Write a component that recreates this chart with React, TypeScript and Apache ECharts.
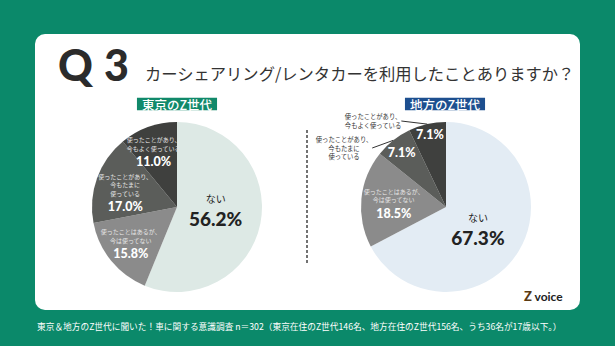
import React, { useEffect, useRef } from 'react';
import * as echarts from 'echarts';

const categories = [
  'ない',
  '使ったことはあるが、今は使ってない',
  '使ったことがあり、今もたまに使っている',
  '使ったことがあり、今もよく使っている',
];
const categoryLines = [
  ['ない'],
  ['使ったことはあるが、', '今は使ってない'],
  ['使ったことがあり、', '今もたまに', '使っている'],
  ['使ったことがあり、', '今もよく使っている'],
];
const tokyoValues = [56.2, 15.8, 17.0, 11.0];
const localValues = [67.3, 18.5, 7.1, 7.1];
const groupTitles = ['東京のZ世代', '地方のZ世代'];
const questionNo = ['Q', '3'];
const questionText = 'カーシェアリング/レンタカーを利用したことありますか？';
const footnote =
  '東京＆地方のZ世代に聞いた！車に関する意識調査 n＝302（東京在住のZ世代146名、地方在住のZ世代156名、うち36名が17歳以下。）';
const localOutsideIdx = [2, 3];

const JP = '"Noto Sans CJK JP", "Noto Sans", sans-serif';
const NUM = 'Lato, "Noto Sans", sans-serif';

const fmtPct = (v: number) => v.toFixed(1) + '%';

const insideFormatter = (outside: number[]) => (p: any) => {
  const i = p.dataIndex;
  if (i === 0) return `{n|${categoryLines[0][0]}}\n{b|${fmtPct(p.value)}}`;
  const pct = `{p|${fmtPct(p.value)}}`;
  if (outside.includes(i)) return pct;
  return categoryLines[i].map((l) => `{s|${l}}`).join('\n') + '\n' + pct;
};

const insideRich = {
  n: { fontFamily: JP, fontSize: 10, color: '#222', lineHeight: 16 },
  b: { fontFamily: NUM, fontSize: 19, fontWeight: 900, color: '#222', lineHeight: 24 },
  s: { fontFamily: JP, fontSize: 6, color: '#e6e6e6', lineHeight: 8.5 },
  p: { fontFamily: NUM, fontSize: 12.5, fontWeight: 900, color: '#ffffff', lineHeight: 18 },
};

export default function App() {
  const ref = useRef<HTMLDivElement>(null);
  useEffect(() => {
    document.body.style.margin = '0';
    const chart = echarts.init(ref.current!, null, { renderer: 'svg' });
    const tokyoShift = [
      [-6, -5],
      [-11, 9],
      [-9, 2],
      [-8, -11],
    ];
    const localShift = [
      [-7, -1],
      [-7, 2],
      [-16, -19],
      [-6, -28],
    ];
    const greys = ['#8b8b8b', '#5b5d5a', '#3f403e'];
    const option: any = {
      animation: false,
      backgroundColor: '#0b896a',
      graphic: [
        { type: 'rect', z: -10, shape: { x: 35, y: 34, width: 545, height: 276, r: 10 }, style: { fill: '#ffffff' } },
        { type: 'text', x: 58, y: 64, style: { text: questionNo[0], font: `900 43px ${NUM}`, fill: '#2b2b2b', verticalAlign: 'middle' } },
        { type: 'text', x: 104, y: 64, style: { text: questionNo[1], font: `900 43px ${NUM}`, fill: '#2b2b2b', verticalAlign: 'middle' } },
        { type: 'text', x: 145, y: 73, style: { text: questionText, font: `400 16.3px ${JP}`, fill: '#333', verticalAlign: 'middle' } },
        {
          type: 'text', x: 177, y: 104,
          style: { text: groupTitles[0], font: `500 12.5px ${JP}`, fill: '#fff', backgroundColor: '#11896a', padding: [0, 5], align: 'center', verticalAlign: 'middle' },
        },
        {
          type: 'text', x: 445, y: 104,
          style: { text: groupTitles[1], font: `500 12.5px ${JP}`, fill: '#fff', backgroundColor: '#1d4f8f', padding: [0, 5], align: 'center', verticalAlign: 'middle' },
        },
        { type: 'line', shape: { x1: 307, y1: 130, x2: 307, y2: 263 }, style: { stroke: '#444', lineWidth: 1.5, lineDash: [3, 2] } },
        {
          type: 'text', x: 524, y: 296,
          style: {
            text: '{z|Z}{v| voice}',
            verticalAlign: 'middle',
            rich: {
              z: { font: `900 13px ${NUM}`, fill: '#5a3a12' },
              v: { font: `700 12px ${NUM}`, fill: '#222' },
            },
          },
        },
        { type: 'text', x: 37, y: 326, style: { text: footnote, font: `400 8.7px ${JP}`, fill: '#ffffff', verticalAlign: 'middle' } },
      ],
      series: [
        {
          type: 'pie',
          center: [177, 207],
          radius: 85,
          startAngle: 90,
          clockwise: true,
          silent: true,
          avoidLabelOverlap: false,
          data: tokyoValues.map((v, i) => ({
            value: v,
            name: categories[i],
            itemStyle: { color: i === 0 ? '#dde9e5' : greys[i - 1] },
          })),
          label: { show: true, position: 'inside', formatter: insideFormatter([]), rich: insideRich, align: 'center' },
          labelLine: { show: false },
          labelLayout: (p: any) => ({ dx: tokyoShift[p.dataIndex][0], dy: tokyoShift[p.dataIndex][1] }),
        },
        {
          type: 'pie',
          center: [446, 207],
          radius: 85,
          startAngle: 90,
          clockwise: true,
          silent: true,
          avoidLabelOverlap: false,
          data: localValues.map((v, i) => ({
            value: v,
            name: categories[i],
            itemStyle: { color: i === 0 ? '#e3ecf4' : greys[i - 1] },
          })),
          label: { show: true, position: 'inside', formatter: insideFormatter(localOutsideIdx), rich: insideRich, align: 'center' },
          labelLine: { show: false },
          labelLayout: (p: any) => ({ dx: localShift[p.dataIndex][0], dy: localShift[p.dataIndex][1] }),
        },
        {
          type: 'pie',
          center: [446, 207],
          radius: 85,
          startAngle: 90,
          clockwise: true,
          silent: true,
          z: 3,
          avoidLabelOverlap: false,
          data: localValues.map((v, i) => ({
            value: v,
            name: categories[i],
            label: { show: localOutsideIdx.includes(i) },
            labelLine: { show: localOutsideIdx.includes(i) },
          })),
          itemStyle: { color: 'rgba(0,0,0,0)' },
          label: {
            position: 'outside',
            formatter: (p: any) => categoryLines[p.dataIndex].map((l) => `{o|${l}}`).join('\n'),
            rich: { o: { fontFamily: JP, fontSize: 6.3, color: '#333', lineHeight: 8.5, align: 'center' } },
          },
          labelLine: { length: 8, length2: 0, lineStyle: { color: '#333', width: 1 } },
          labelLayout: (p: any) => {
            if (p.dataIndex === 3) return { x: 373, y: 121, align: 'center', verticalAlign: 'middle' };
            if (p.dataIndex === 2) return { x: 344, y: 148, align: 'center', verticalAlign: 'middle' };
            return {};
          },
        },
      ],
    };
    chart.setOption(option);
    return () => chart.dispose();
  }, []);
  return <div ref={ref} style={{ position: 'absolute', left: 0, top: 0, width: 615, height: 346 }} />;
}
